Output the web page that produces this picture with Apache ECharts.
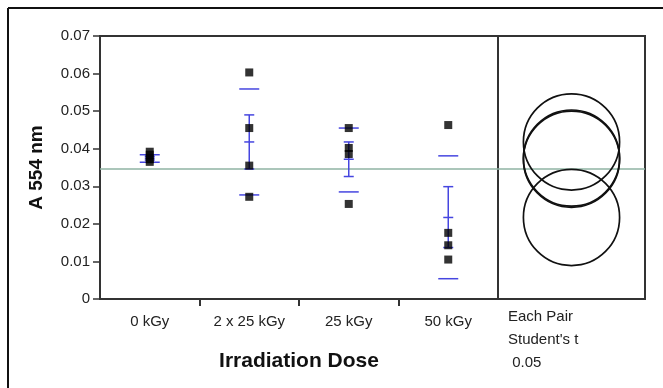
<!DOCTYPE html>
<html><head><meta charset="utf-8">
<script src="https://cdn.jsdelivr.net/npm/echarts@6/dist/echarts.min.js"></script>
<style>html,body{margin:0;padding:0;background:#fff}#c{width:663px;height:388px}</style>
</head><body><div id="c"></div>
<script>
const categories = ['0 kGy', '2 x 25 kGy', '25 kGy', '50 kGy'];
const yTicks = [0, 0.01, 0.02, 0.03, 0.04, 0.05, 0.06, 0.07];
const points0 = [0.0392, 0.0384, 0.0372, 0.0365];
const points1 = [0.0603, 0.0455, 0.0355, 0.0272];
const points2 = [0.0455, 0.0402, 0.0386, 0.0253];
const points3 = [0.0463, 0.0176, 0.0143, 0.0105];
const means = [0.0375, 0.0418, 0.0372, 0.0217];
const seLow = [0.0370, 0.0346, 0.0326, 0.0137];
const seHigh = [0.0380, 0.0490, 0.0418, 0.0299];
const sdLow = [0.0364, 0.0277, 0.0285, 0.0054];
const sdHigh = [0.0384, 0.0559, 0.0455, 0.0381];
const circleRadius = 0.0128;
const grandMean = 0.0346;
const legendLines = ['Each Pair', "Student's t", ' 0.05'];

const allPoints = [points0, points1, points2, points3];
const scatterData = [];
allPoints.forEach((arr, i) => arr.forEach(v => scatterData.push([i, v])));
const barData = means.map((m, i) => [i, m, seLow[i], seHigh[i], sdLow[i], sdHigh[i]]);
const circleData = means.map(m => [0.5, m, circleRadius]);

const FONT = 'Liberation Sans, Arial, sans-serif';
const BLUE = '#4646e0';
const GREEN = '#8fb3a3';
const chart = echarts.init(document.getElementById('c'), null, {renderer: 'canvas'});
chart.setOption({
  animation: false,
  graphic: [
    {type: 'line', shape: {x1: 8, y1: 8, x2: 663, y2: 8}, style: {stroke: '#111', lineWidth: 2}},
    {type: 'line', shape: {x1: 8, y1: 8, x2: 8, y2: 388}, style: {stroke: '#111', lineWidth: 2}},
    {type: 'text', left: 508, top: 305, style: {text: legendLines.join('\n'), font: '15px ' + FONT, fill: '#222', lineHeight: 23}}
  ],
  grid: [
    {left: 100, top: 36, width: 398, height: 263, show: true, borderColor: '#333', borderWidth: 2},
    {left: 498, top: 36, width: 147, height: 263, show: true, borderColor: '#333', borderWidth: 2}
  ],
  xAxis: [
    {type: 'value', gridIndex: 0, min: -0.5, max: 3.5,
     name: 'Irradiation Dose', nameLocation: 'middle', nameGap: 52,
     nameTextStyle: {fontFamily: FONT, fontSize: 21, fontWeight: 'bold', color: '#111'},
     axisLine: {onZero: false, lineStyle: {color: '#333', width: 2}},
     axisTick: {show: true, length: 7, customValues: [0.5, 1.5, 2.5], lineStyle: {color: '#333', width: 2}},
     axisLabel: {customValues: [0, 1, 2, 3], formatter: v => categories[Math.round(v)], fontFamily: FONT, fontSize: 15, color: '#222', margin: 15},
     splitLine: {show: false}},
    {type: 'value', gridIndex: 1, min: 0, max: 1, show: false}
  ],
  yAxis: [
    {type: 'value', gridIndex: 0, min: 0, max: 0.07, interval: 0.01,
     name: 'A 554 nm', nameLocation: 'middle', nameGap: 54,
     nameTextStyle: {fontFamily: FONT, fontSize: 19, fontWeight: 'bold', color: '#111'},
     axisLine: {show: true, onZero: false, lineStyle: {color: '#333', width: 2}},
     axisTick: {show: true, length: 7, lineStyle: {color: '#333', width: 1.5}},
     axisLabel: {formatter: v => { const t = yTicks.find(x => Math.abs(x - v) < 1e-9); return t === 0 ? '0' : (t !== undefined ? t.toFixed(2) : ''); }, fontFamily: FONT, fontSize: 15, color: '#222', margin: 10},
     splitLine: {show: false}},
    {type: 'value', gridIndex: 1, min: 0, max: 0.07, show: false}
  ],
  series: [
    {type: 'line', xAxisIndex: 0, yAxisIndex: 0, z: 2, symbol: 'none', silent: true,
     data: [[-0.5, grandMean], [3.5, grandMean]], lineStyle: {color: GREEN, width: 1.3}},
    {type: 'line', xAxisIndex: 1, yAxisIndex: 1, z: 2, symbol: 'none', silent: true,
     data: [[0, grandMean], [1, grandMean]], lineStyle: {color: GREEN, width: 1.3}},
    {type: 'custom', xAxisIndex: 0, yAxisIndex: 0, z: 3, data: barData,
     renderItem: (params, api) => {
       const x = api.coord([api.value(0), 0])[0];
       const ym = api.coord([0, api.value(1)])[1];
       const yl = api.coord([0, api.value(2)])[1];
       const yh = api.coord([0, api.value(3)])[1];
       const sl = api.coord([0, api.value(4)])[1];
       const sh = api.coord([0, api.value(5)])[1];
       const st = {stroke: BLUE, lineWidth: 1.5};
       const ln = (x1, y1, x2, y2) => ({type: 'line', shape: {x1, y1, x2, y2}, style: st});
       return {type: 'group', children: [
         ln(x, yl, x, yh), ln(x - 5, yl, x + 5, yl), ln(x - 5, yh, x + 5, yh), ln(x - 5, ym, x + 5, ym),
         ln(x - 10, sl, x + 10, sl), ln(x - 10, sh, x + 10, sh)
       ]};
     }
    },
    {type: 'scatter', xAxisIndex: 0, yAxisIndex: 0, z: 5, data: scatterData, symbol: 'rect', symbolSize: 8, itemStyle: {color: '#000'}},
    {type: 'custom', xAxisIndex: 1, yAxisIndex: 1, z: 3, data: circleData,
     renderItem: (params, api) => {
       const c = api.coord([api.value(0), api.value(1)]);
       const r = api.size([0, api.value(2)])[1];
       return {type: 'circle', shape: {cx: c[0], cy: c[1], r: r}, style: {fill: 'none', stroke: '#111', lineWidth: 1.7}};
     }
    }
  ]
});
</script>
</body></html>
